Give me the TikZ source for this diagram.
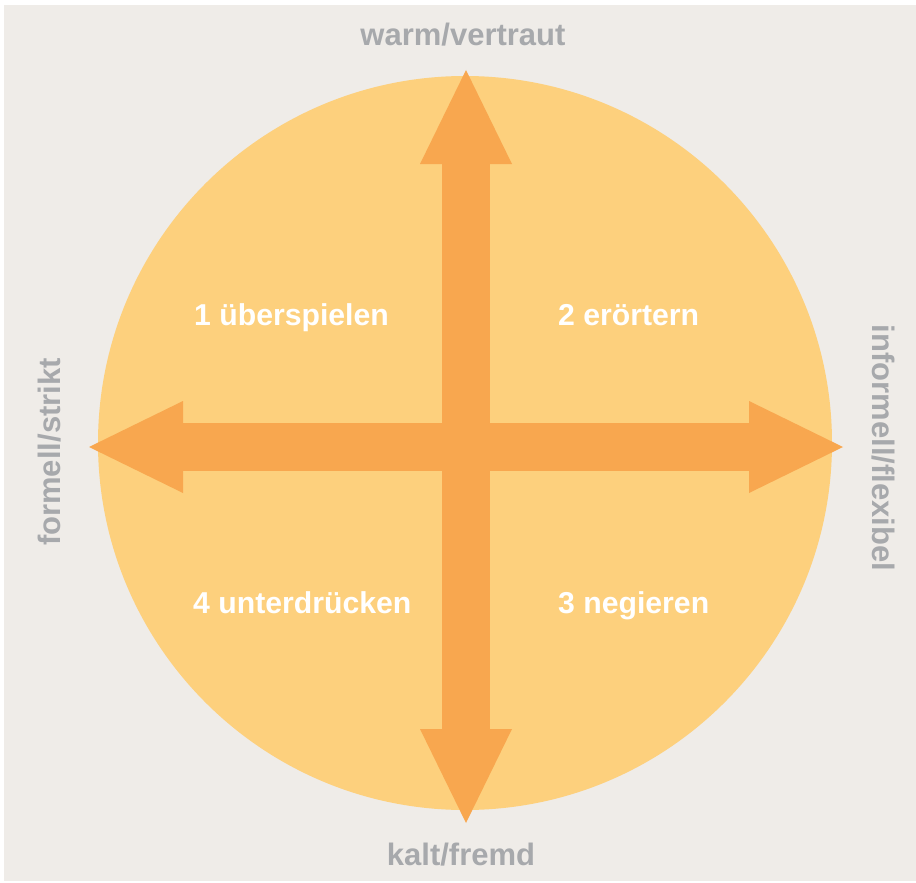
\documentclass[tikz,border=0pt]{standalone}
\usepackage{fontspec}
\setmainfont{Liberation Sans}
\usepackage{xcolor}
\usepackage{tikz}
\usetikzlibrary{arrows.meta,positioning}

\definecolor{paper}{RGB}{239,236,232}
\definecolor{disc}{RGB}{253,208,125}
\definecolor{axis}{RGB}{248,167,79}
\definecolor{pole}{RGB}{167,169,172}

\begin{document}
\begin{tikzpicture}[x=1pt,y=-1pt,
  pole/.style={font=\fontsize{31}{36}\selectfont\bfseries,text=pole,inner sep=0pt},
  quad/.style={font=\fontsize{30.2}{36}\selectfont\bfseries,text=white,inner sep=0pt,anchor=base west},
  bigarrow/.style={draw=axis,line width=48pt,
    {Triangle[length=94pt,width=92pt,line width=0pt]}-{Triangle[length=94pt,width=92pt,line width=0pt]}}]
\useasboundingbox (0,0) rectangle (916,883);
\fill[white] (0,0) rectangle (916,883);
\fill[paper] (4,5) rectangle (916,881);
\fill[disc] (465,443) circle[radius=367];
% axis end points
\coordinate (up) at (466,70);
\coordinate (down) at (466,823);
\coordinate (left) at (89,447);
\coordinate (right) at (843,447);
\draw[bigarrow] (up) -- (down);
\draw[bigarrow] (left) -- (right);
% poles
\node[pole,anchor=base] (warm) at (463,46) {warm/vertraut};
\node[pole,anchor=base] (kalt) at (461,865) {kalt/fremd};
\node[pole,rotate=90] (formell) at (50,452) {formell/strikt};
\node[pole,rotate=-90] (informell) at (883,448) {informell/flexibel};
% quadrants
\node[quad] (q1) at (194,325) {1 überspielen};
\node[quad] (q2) at (558,325) {2 erörtern};
\node[quad] (q3) at (558,613) {3 negieren};
\node[quad] (q4) at (193,613) {4 unterdrücken};
\end{tikzpicture}
\end{document}
